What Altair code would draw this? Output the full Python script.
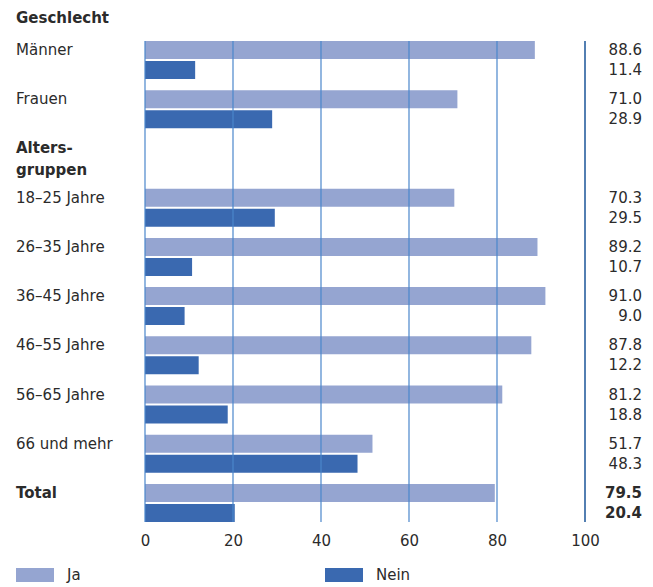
import altair as alt
import pandas as pd

rows = ["Männer", "Frauen", "Alters-gruppen", "18–25 Jahre", "26–35 Jahre",
        "36–45 Jahre", "46–55 Jahre", "56–65 Jahre", "66 und mehr", "Total"]
ja = [88.6, 71.0, None, 70.3, 89.2, 91.0, 87.8, 81.2, 51.7, 79.5]
nein = [11.4, 28.9, None, 29.5, 10.7, 9.0, 12.2, 18.8, 48.3, 20.4]
series = ["Ja", "Nein"]
ticks = [0, 20, 40, 60, 80, 100]
header = "Geschlecht"
group_label = ["Alters-", "gruppen"]

recs = []
for r, a, b in zip(rows, ja, nein):
    if a is not None:
        recs.append({"Row": r, "Serie": "Ja", "Wert": a})
        recs.append({"Row": r, "Serie": "Nein", "Wert": b})
bars_df = pd.DataFrame(recs)
labels_df = pd.DataFrame({"Row": [r for r, a in zip(rows, ja) if a is not None],
                          "Serie": "Ja"})
labels_df["Label"] = labels_df["Row"]

FONT = "DejaVu Sans"
TXT = "#2b2b2b"
IS_TOTAL = "datum.Row === 'Total'"
NOT_TOTAL = "datum.Row !== 'Total'"

yscale = alt.Scale(domain=rows, paddingInner=0.228, paddingOuter=0)
yoff = alt.Scale(domain=series, paddingInner=0.1, paddingOuter=0)
xscale = alt.Scale(domain=[0, 100], nice=False)

bars = alt.Chart(bars_df).mark_bar().encode(
    x=alt.X("Wert:Q", scale=xscale,
            axis=alt.Axis(values=ticks, title=None, domain=False, ticks=False, grid=False,
                          labelFontSize=15, labelFont=FONT, labelColor=TXT,
                          labelPadding=11, labelFlush=False)),
    y=alt.Y("Row:N", scale=yscale, axis=None, sort=rows),
    yOffset=alt.YOffset("Serie:N", scale=yoff),
    color=alt.Color("Serie:N",
                    scale=alt.Scale(domain=series, range=["#95a5d1", "#3a69b0"]),
                    legend=alt.Legend(title=None, orient="none", legendX=-129, legendY=515,
                                      direction="horizontal", columnPadding=244,
                                      symbolType="M-1,-0.368H1V0.368H-1Z", symbolSize=1444,
                                      symbolStrokeWidth=0, symbolOpacity=1,
                                      labelFontSize=15, labelFont=FONT, labelColor=TXT,
                                      labelOffset=13, padding=0)),
)

grid = alt.Chart(pd.DataFrame({"t": ticks[:-1]})).mark_rule(
    color="#4a86cc", strokeWidth=1.2).encode(x=alt.X("t:Q", scale=xscale))
sep = alt.Chart(pd.DataFrame({"t": ticks[-1:]})).mark_rule(
    color="#1a5498", strokeWidth=1.5).encode(x=alt.X("t:Q", scale=xscale))


def cat_layer(weight, flt):
    return alt.Chart(labels_df).transform_filter(flt).mark_text(
        align="left", baseline="middle", font=FONT, fontSize=15, color=TXT,
        fontWeight=weight).encode(
        x=alt.value(-129),
        y=alt.Y("Row:N", scale=yscale, sort=rows),
        yOffset=alt.YOffset("Serie:N", scale=yoff),
        text="Label:N",
    )


def val_layer(weight, flt):
    return alt.Chart(bars_df).transform_filter(flt).mark_text(
        align="right", baseline="middle", font=FONT, fontSize=15, color=TXT,
        fontWeight=weight).encode(
        x=alt.value(497),
        y=alt.Y("Row:N", scale=yscale, sort=rows),
        yOffset=alt.YOffset("Serie:N", scale=yoff),
        text=alt.Text("Wert:Q", format=".1f"),
    )


group_df = pd.DataFrame({"Row": [rows[2]], "Serie": ["Ja"]})
group_text = alt.Chart(group_df).mark_text(
    align="left", baseline="middle", font=FONT, fontSize=15, fontWeight="bold",
    color=TXT, lineHeight=22, text=group_label).encode(
    x=alt.value(-129),
    y=alt.Y("Row:N", scale=yscale, sort=rows),
    yOffset=alt.YOffset("Serie:N", scale=yoff),
)

head = alt.Chart(pd.DataFrame({"t": [header]})).mark_text(
    align="left", baseline="middle", font=FONT, fontSize=15, fontWeight="bold",
    color=TXT).encode(x=alt.value(-129), y=alt.value(-23), text="t:N")

chart = alt.layer(
    bars, grid, sep,
    cat_layer("normal", NOT_TOTAL), cat_layer("bold", IS_TOTAL),
    group_text, head,
    val_layer("normal", NOT_TOTAL), val_layer("bold", IS_TOTAL),
).properties(
    width=440, height=481, autosize="none",
    padding={"left": 137, "top": 33, "right": 60, "bottom": 65},
).configure_view(stroke=None)

chart.save("out.html", embed_options={"renderer": "svg", "actions": False})
